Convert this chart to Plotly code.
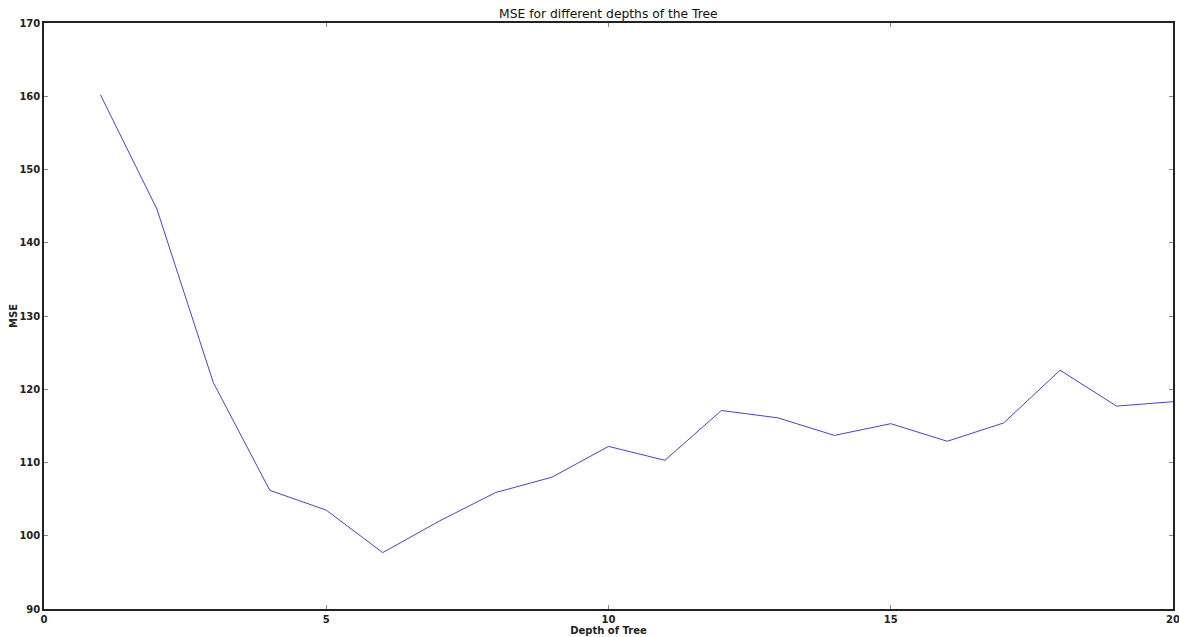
import plotly.graph_objects as go

# Tree depth vs. mean squared error
depths = list(range(1, 21))
mse = [160.2, 144.6, 120.9, 106.2, 103.5, 97.7, 102.0, 105.9, 108.0, 112.2,
       110.3, 117.1, 116.1, 113.7, 115.3, 112.9, 115.4, 122.6, 117.7, 118.3]

x_ticks = [0, 5, 10, 15, 20]
y_ticks = [90, 100, 110, 120, 130, 140, 150, 160, 170]

fig = go.Figure()
fig.add_trace(go.Scatter(
    x=depths, y=mse, mode="lines",
    line=dict(color="#0000ff", width=1),
    opacity=0.75,
    showlegend=False,
))

axis_common = dict(
    showgrid=False, zeroline=False, automargin=False, ticklabeloverflow="allow",
    showline=True, linecolor="#222222", linewidth=1.5, mirror="ticks",
    ticks="inside", ticklen=4, tickwidth=1, tickcolor="#888888",
    tickfont=dict(family="DejaVu Sans", size=10, color="#222222", weight="bold"),
)

fig.update_layout(
    width=1179, height=637,
    margin=dict(l=44, r=6, t=23, b=28),
    paper_bgcolor="white", plot_bgcolor="white",
    title=dict(text="MSE for different depths of the Tree",
               x=0.516, xanchor="center", y=0.978, yanchor="middle",
               font=dict(family="DejaVu Sans", size=12.3, color="#111111")),
    xaxis=dict(range=[0, 20], tickvals=x_ticks,
               title=dict(text="Depth of Tree", standoff=2,
                          font=dict(family="DejaVu Sans", size=10, color="#222222", weight="bold")),
               **axis_common),
    yaxis=dict(range=[90, 170], tickvals=y_ticks,
               title=dict(text="MSE", standoff=0,
                          font=dict(family="DejaVu Sans", size=10, color="#222222", weight="bold")),
               **axis_common),
)

fig.write_html("out.html")
